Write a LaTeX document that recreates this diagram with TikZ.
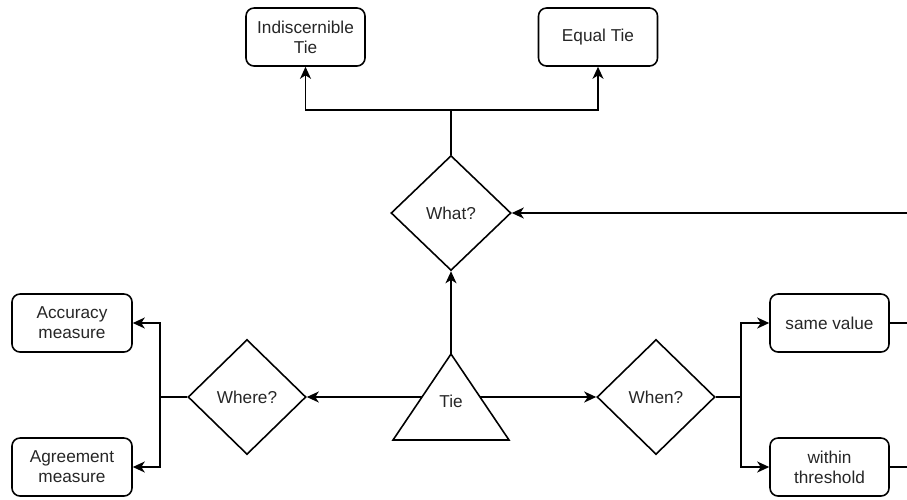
\documentclass[tikz,border=0pt]{standalone}
\usepackage{fontspec}
\setmainfont{Liberation Sans}
\usetikzlibrary{shapes.geometric, arrows.meta, calc}

\begin{document}
\begin{tikzpicture}[
    font=\fontsize{9.8}{11.4}\selectfont,
    every node/.style={text=black!85},
    tiebox/.style={rectangle, rounded corners=0.16cm, draw, line width=0.9pt, minimum width=2.38cm, minimum height=1.16cm, align=center},
    askbox/.style={diamond, draw, line width=0.9pt, minimum width=2.36cm, minimum height=2.3cm, inner sep=0pt},
    line/.style={line width=0.9pt},
    arrow/.style={-{Stealth[length=2.4mm, width=2.2mm, inset=0.7mm]}, line width=0.9pt}
]
\useasboundingbox (0,0) rectangle (18.14,-9.98);

% Tie
\draw[line] (9.02,-7.08) coordinate (tie-top) -- (10.18,-8.80) coordinate (tie-br) -- (7.86,-8.80) coordinate (tie-bl) -- cycle;
\node (tie) at (9.02,-8.02) {Tie};
\coordinate (tie-l) at ($(tie-top)!0.5!(tie-bl)$);
\coordinate (tie-r) at ($(tie-top)!0.5!(tie-br)$);

% Questions
\node[askbox, minimum width=2.4cm] (what) at (9.02,-4.26) {What?};
\node[askbox] (where) at (4.94,-7.94) {Where?};
\node[askbox] (when) at (13.12,-7.94) {When?};

% Kinds of tie
\node[tiebox] (indis) at (6.11,-0.74) {Indiscernible\\Tie};
\node[tiebox] (equal) at (11.96,-0.74) {Equal Tie};

% Measures
\node[tiebox, minimum width=2.4cm] (acc) at (1.44,-6.46) {Accuracy\\measure};
\node[tiebox, minimum width=2.4cm] (agree) at (1.44,-9.34) {Agreement\\measure};

% Values
\node[tiebox] (same) at (16.59,-6.46) {same value};
\node[tiebox] (within) at (16.59,-9.34) {within\\threshold};

% Split points and edge
\coordinate (wsplit) at (9.02,-2.2);
\coordinate (lsplit) at (3.2,-7.94);
\coordinate (rsplit) at (14.82,-7.94);
\coordinate (edge1) at (18.14,-4.26);
\coordinate (edge2) at (18.14,-6.46);
\coordinate (edge3) at (18.14,-9.34);

% Arrows
\draw[arrow] (tie-top) -- (what);
\draw[arrow] (tie-l) -- (where);
\draw[arrow] (tie-r) -- (when);
\draw[line] (what) -- (wsplit);
\draw[arrow] (wsplit) -| (indis);
\draw[arrow] (wsplit) -| (equal);
\draw[line] (where) -- (lsplit);
\draw[arrow] (lsplit) |- (acc);
\draw[arrow] (lsplit) |- (agree);
\draw[line] (when) -- (rsplit);
\draw[arrow] (rsplit) |- (same);
\draw[arrow] (rsplit) |- (within);
\draw[arrow] (edge1) -- (what);
\draw[line] (same) -- (edge2);
\draw[line] (within) -- (edge3);

\end{tikzpicture}
\end{document}
